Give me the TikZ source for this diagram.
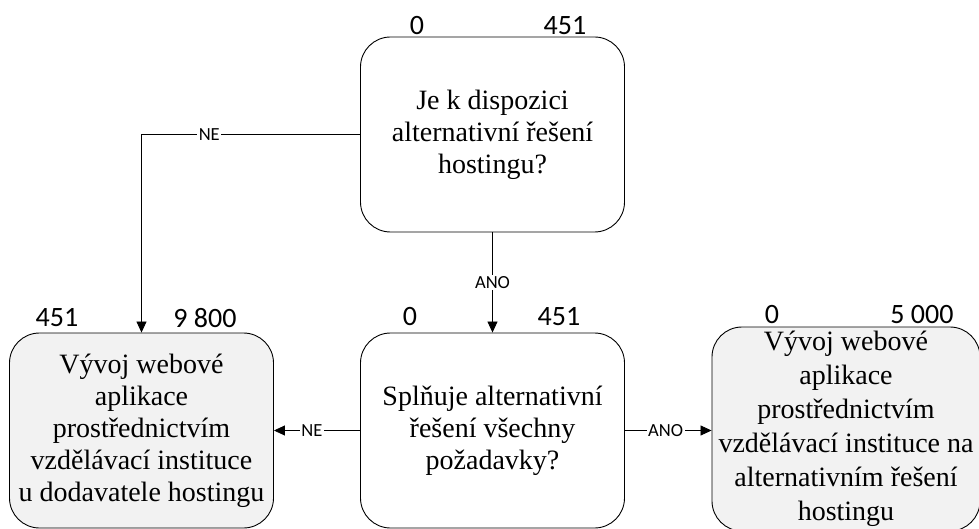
\documentclass[tikz,border=0pt]{standalone}
\usepackage{fontspec}
\setmainfont{Liberation Serif}
\newfontfamily\numfont{Carlito}
\usetikzlibrary{arrows.meta}
\definecolor{resultfill}{RGB}{242,242,242}
\tikzset{
  box/.style={draw=black, line width=0.9pt, rounded corners=30pt,
    minimum width=264pt, minimum height=195pt, inner sep=0pt,
    align=center, font=\fontsize{28}{32}\selectfont},
  result/.style={box, fill=resultfill},
  num/.style={font=\numfont\fontsize{28}{30}\selectfont, inner sep=0pt},
  link/.style={draw=black, line width=0.8pt},
  arrow/.style={link, -{Triangle[length=11pt,width=10pt]}},
  tag/.style={fill=white, inner sep=1.5pt, font=\numfont\fontsize{18.5}{20}\selectfont},
}
\begin{document}
\begin{tikzpicture}[x=1pt,y=-1pt]
\clip (0,0) rectangle (979,529);

% decision boxes
\node[box] (q1) at (492.5,134.5) {Je k dispozici\\alternativní řešení\\hostingu?};
\node[box] (q2) at (492.5,430.5) {Splňuje alternativní\\řešení všechny\\požadavky?};

% outcome boxes
\node[result] (r1) at (141.5,430.5)
  {Vývoj webové\\aplikace\\prostřednictvím\\vzdělávací instituce\\u dodavatele hostingu};
\node[result, minimum width=268pt, minimum height=204pt,
      font=\fontsize{28}{34}\selectfont] (r2) at (846,429)
  {Vývoj webové\\aplikace\\prostřednictvím\\vzdělávací instituce na\\alternativním řešení\\hostingu};

% values above the boxes
\node[num] (q1a) at (417,26) {0};
\node[num] (q1b) at (565,26) {451};
\node[num] (q2a) at (410,317) {0};
\node[num] (q2b) at (559,317) {451};
\node[num] (r1a) at (57,318) {451};
\node[num] (r1b) at (205,318) {9 800};
\node[num] (r2a) at (772,315) {0};
\node[num] (r2b) at (922,315) {5 000};

% connectors
\coordinate (c1) at (q1.west -| r1.north);
\draw[link] (q1.west) -- node[tag, pos=0.69] {NE} (c1);
\draw[arrow] (c1) -- (r1.north);
\draw[arrow] (q1.south) -- node[tag, pos=0.5] {ANO} (q2.north);
\draw[arrow] (q2.west) -- node[tag, pos=0.56] {NE} (r1.east);
\draw[arrow] (q2.east) -- node[tag, pos=0.47] {ANO} (q2.east -| r2.west);
\end{tikzpicture}
\end{document}
